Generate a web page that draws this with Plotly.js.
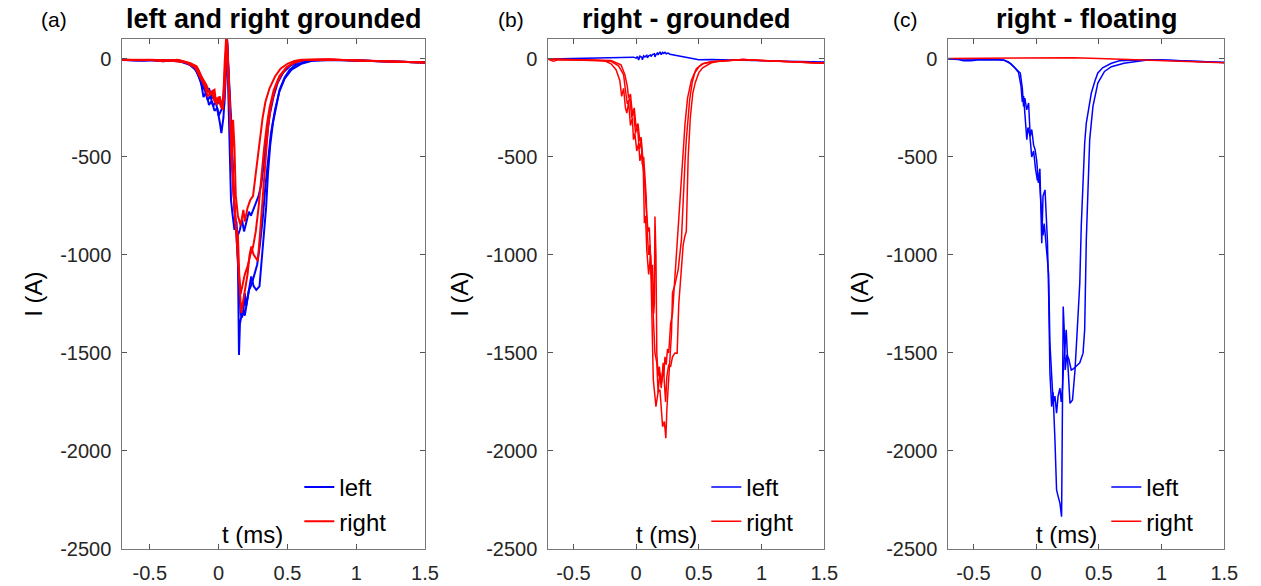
<!DOCTYPE html>
<html>
<head>
<meta charset="utf-8">
<script src="https://cdn.plot.ly/plotly-3.0.1.min.js"></script>
<style>html,body{margin:0;padding:0;background:#fff;}#chart{width:1261px;height:586px;}</style>
</head>
<body>
<div id="chart"></div>
<script>
// ---------- Panel (a): left and right grounded ----------
var a_left1_t = [-0.70,-0.60,-0.50,-0.40,-0.30,-0.22,-0.17,-0.13,-0.11,-0.09,-0.07,-0.05,-0.03,-0.01,0.01,0.02,0.035,0.05,0.06,0.075,0.09,0.10,0.115,0.13,0.14,0.148,0.155,0.165,0.18,0.19,0.20,0.215,0.237,0.255,0.274,0.297,0.31,0.322,0.345,0.359,0.375,0.395,0.42,0.443,0.48,0.517,0.56,0.61,0.66,0.75,0.90,1.20,1.50];
var a_left1_i = [-5,-8,-6,-12,-6,-22,-50,-110,-195,-170,-235,-215,-265,-250,-330,-378,-300,-120,120,-250,-720,-785,-872,-830,-1000,-1510,-1350,-1314,-1290,-1195,-1260,-1200,-1110,-1160,-1178,-1160,-1042,-957,-760,-581,-440,-326,-230,-157,-95,-55,-30,-18,-10,-5,-5,-12,-18];
var a_left2_t = [-0.70,-0.55,-0.45,-0.30,-0.21,-0.16,-0.12,-0.10,-0.08,-0.06,-0.04,-0.02,0.00,0.02,0.04,0.06,0.08,0.10,0.115,0.125,0.14,0.155,0.17,0.185,0.20,0.22,0.235,0.25,0.27,0.29,0.31,0.33,0.35,0.37,0.40,0.43,0.47,0.52,0.58,0.65,0.80,1.00,1.20,1.50];
var a_left2_i = [-4,-10,-6,-8,-30,-60,-140,-160,-210,-190,-240,-220,-290,-260,-240,120,-200,-550,-760,-850,-900,-870,-820,-880,-830,-780,-800,-770,-740,-700,-640,-520,-400,-290,-190,-120,-70,-35,-15,-6,-4,-8,-12,-18];
var a_left3_t = [-0.70,-0.50,-0.35,-0.25,-0.18,-0.14,-0.11,-0.09,-0.07,-0.05,-0.03,-0.01,0.01,0.03,0.06,0.09,0.11,0.13,0.15,0.16,0.17,0.18,0.19,0.205,0.22,0.24,0.26,0.28,0.30,0.32,0.34,0.36,0.38,0.41,0.44,0.48,0.53,0.60,0.68,0.85,1.00,1.20,1.50];
var a_left3_i = [-6,-5,-9,-15,-40,-90,-130,-170,-150,-200,-190,-230,-210,-250,115,-300,-700,-900,-1150,-1300,-1320,-1280,-1310,-1250,-1180,-1150,-1100,-1050,-950,-820,-650,-500,-380,-260,-170,-100,-55,-25,-10,-5,-8,-12,-18];
var a_right1_t = [-0.70,-0.60,-0.50,-0.41,-0.30,-0.21,-0.16,-0.126,-0.09,-0.066,-0.03,-0.017,0.007,0.031,0.044,0.056,0.07,0.085,0.095,0.105,0.115,0.125,0.14,0.16,0.18,0.19,0.21,0.23,0.25,0.26,0.28,0.30,0.32,0.34,0.37,0.41,0.45,0.50,0.55,0.60,0.80,1.00,1.20,1.50];
var a_right1_i = [-3,-7,-5,-12,-4,-21,-38,-89,-132,-174,-157,-234,-191,-259,-21,125,-100,-300,-550,-310,-450,-700,-800,-850,-770,-830,-760,-720,-700,-640,-520,-400,-300,-220,-150,-90,-50,-25,-10,-4,-3,-8,-12,-18];
var a_right2_t = [-0.70,-0.55,-0.40,-0.28,-0.20,-0.15,-0.12,-0.09,-0.06,-0.04,-0.02,0.00,0.02,0.04,0.06,0.08,0.10,0.12,0.14,0.155,0.165,0.175,0.19,0.21,0.225,0.238,0.255,0.27,0.285,0.30,0.315,0.33,0.345,0.36,0.38,0.41,0.45,0.50,0.56,0.62,0.80,1.00,1.20,1.50];
var a_right2_i = [-4,-6,-10,-8,-25,-50,-100,-150,-180,-160,-220,-200,-250,-210,120,-250,-550,-800,-1000,-1200,-1296,-1250,-1180,-1100,-1000,-957,-1000,-1016,-1030,-900,-760,-600,-450,-340,-240,-150,-85,-40,-15,-5,-3,-8,-12,-18];
var a_right3_t = [-0.70,-0.50,-0.35,-0.24,-0.17,-0.13,-0.10,-0.08,-0.05,-0.03,-0.01,0.02,0.04,0.06,0.085,0.105,0.125,0.14,0.15,0.16,0.175,0.19,0.21,0.23,0.25,0.27,0.29,0.31,0.33,0.35,0.37,0.40,0.44,0.49,0.55,0.62,0.80,1.00,1.20,1.50];
var a_right3_i = [-5,-4,-8,-18,-45,-95,-140,-190,-170,-215,-200,-240,-180,110,-300,-650,-850,-900,-1100,-1200,-1150,-1100,-1060,-1000,-960,-880,-760,-600,-460,-340,-250,-160,-90,-45,-18,-6,-3,-8,-12,-18];

// ---------- Panel (b): right - grounded ----------
var b_left_t = [-0.70,-0.50,-0.30,-0.10,-0.02,0.00,0.01,0.02,0.03,0.045,0.05,0.06,0.07,0.085,0.09,0.10,0.115,0.12,0.13,0.145,0.15,0.16,0.17,0.175,0.18,0.19,0.20,0.21,0.22,0.23,0.24,0.255,0.27,0.285,0.30,0.35,0.40,0.45,0.50,0.60,0.80,1.00,1.20,1.50];
var b_left_i = [0,2,4,7,9,4,12,-6,14,8,-4,16,10,18,6,16,20,12,22,26,10,24,30,20,28,36,22,33,28,34,26,30,24,22,20,14,8,2,-4,-3,-5,-8,-12,-16];
var b_right1_t = [-0.70,-0.66,-0.62,-0.50,-0.35,-0.25,-0.20,-0.16,-0.13,-0.115,-0.10,-0.085,-0.074,-0.06,-0.045,-0.03,-0.021,-0.01,0.005,0.02,0.03,0.045,0.058,0.066,0.075,0.085,0.10,0.115,0.124,0.137,0.158,0.175,0.19,0.20,0.211,0.225,0.237,0.245,0.255,0.269,0.282,0.29,0.31,0.335,0.361,0.375,0.39,0.40,0.427,0.447,0.467,0.50,0.532,0.60,0.66,0.75,0.85,1.00,1.20,1.50];
var b_right1_i = [-2,-12,-5,-6,-5,-10,-25,-55,-110,-191,-150,-250,-276,-220,-340,-300,-412,-380,-470,-430,-520,-480,-582,-838,-800,-974,-1100,-1000,-1212,-1637,-1774,-1700,-1688,-1780,-1876,-1850,-1935,-1790,-1700,-1535,-1398,-1194,-1150,-1076,-923,-700,-520,-412,-208,-120,-72,-40,-25,-15,-13,-8,-3,-8,-14,-22];
var b_right2_t = [-0.70,-0.40,-0.20,-0.14,-0.10,-0.085,-0.07,-0.05,-0.035,-0.02,-0.005,0.01,0.025,0.04,0.05,0.06,0.07,0.08,0.09,0.10,0.11,0.12,0.13,0.14,0.145,0.15,0.158,0.165,0.175,0.185,0.20,0.21,0.22,0.23,0.24,0.25,0.26,0.275,0.29,0.31,0.33,0.35,0.37,0.39,0.41,0.44,0.48,0.53,0.60,0.70,0.85,1.00,1.20,1.50];
var b_right2_i = [0,-5,-12,-35,-80,-160,-230,-200,-300,-260,-380,-340,-460,-420,-540,-500,-620,-700,-900,-1000,-950,-1100,-1050,-1300,-1250,-804,-1000,-1500,-1620,-1570,-1680,-1600,-1620,-1520,-1560,-1480,-1500,-1350,-1300,-1100,-900,-700,-500,-330,-200,-110,-50,-25,-15,-10,-3,-8,-14,-22];
var b_right3_t = [-0.70,-0.40,-0.20,-0.12,-0.09,-0.07,-0.06,-0.045,-0.03,-0.015,0.00,0.015,0.03,0.04,0.05,0.065,0.08,0.095,0.105,0.12,0.13,0.14,0.15,0.165,0.175,0.19,0.205,0.215,0.225,0.235,0.245,0.26,0.275,0.29,0.31,0.327,0.34,0.36,0.375,0.388,0.40,0.415,0.432,0.452,0.472,0.50,0.53,0.60,0.65,0.75,0.85,1.00,1.20,1.50];
var b_right3_i = [0,-5,-8,-30,-80,-140,-200,-180,-280,-250,-350,-330,-420,-400,-470,-600,-760,-880,-860,-1050,-1200,-1350,-1500,-1550,-1700,-1600,-1650,-1550,-1680,-1750,-1620,-1560,-1570,-1520,-1500,-1501,-1250,-1100,-950,-906,-880,-500,-300,-174,-120,-70,-45,-20,-13,-8,-3,-8,-14,-22];

// ---------- Panel (c): right - floating ----------
var c_left1_t = [-0.70,-0.62,-0.58,-0.52,-0.45,-0.30,-0.26,-0.22,-0.18,-0.15,-0.126,-0.11,-0.10,-0.09,-0.075,-0.06,-0.047,-0.035,-0.02,-0.008,0.005,0.018,0.03,0.045,0.055,0.071,0.08,0.09,0.10,0.11,0.124,0.135,0.15,0.163,0.175,0.19,0.203,0.216,0.225,0.232,0.245,0.26,0.28,0.30,0.315,0.33,0.348,0.374,0.387,0.40,0.427,0.453,0.492,0.545,0.60,0.70,0.80,0.90,1.00,1.20,1.50];
var c_left1_i = [0,-3,-9,-9,-4,-3,-5,-15,-38,-55,-72,-150,-242,-200,-260,-225,-395,-360,-440,-463,-520,-633,-560,-940,-700,-668,-800,-925,-1200,-1603,-1774,-1700,-1944,-2199,-2230,-2267,-2335,-1263,-1400,-1587,-1510,-1530,-1587,-1580,-1570,-1560,-1550,-1501,-1382,-923,-412,-242,-123,-64,-40,-22,-12,-4,-6,-12,-18];
var c_left2_t = [-0.70,-0.30,-0.25,-0.20,-0.17,-0.14,-0.12,-0.11,-0.10,-0.085,-0.074,-0.065,-0.05,-0.035,-0.02,-0.005,0.01,0.025,0.04,0.055,0.065,0.08,0.09,0.10,0.11,0.124,0.136,0.15,0.163,0.175,0.19,0.20,0.21,0.22,0.24,0.25,0.27,0.29,0.31,0.325,0.348,0.36,0.374,0.387,0.40,0.42,0.44,0.47,0.492,0.53,0.60,0.664,0.80,0.90,1.00,1.20,1.50];
var c_left2_i = [0,-2,-8,-25,-45,-70,-140,-220,-190,-300,-412,-350,-390,-500,-470,-560,-620,-600,-750,-900,-840,-950,-1000,-1100,-1450,-1637,-1757,-1720,-1807,-1720,-1680,-1750,-1680,-1550,-1382,-1520,-1757,-1740,-1587,-1416,-1144,-850,-582,-430,-327,-240,-174,-110,-72,-45,-22,-10,-5,-4,-6,-12,-18];
var c_right_t = [-0.70,-0.40,-0.10,0.10,0.20,0.30,0.50,0.70,0.90,1.20,1.50];
var c_right_i = [2,3,5,6,8,6,2,-2,-5,-12,-20];

// ---------- Axis ticks / labels ----------
var xTickVals = [-0.5, 0, 0.5, 1, 1.5];
var xTickText = ['-0.5', '0', '0.5', '1', '1.5'];
var yTickVals = [-2500, -2000, -1500, -1000, -500, 0];
var yTickText = ['-2500', '-2000', '-1500', '-1000', '-500', '0'];
var panelTitles = ['left and right grounded', 'right - grounded', 'right - floating'];
var panelLetters = ['(a)', '(b)', '(c)'];
var seriesNames = ['left', 'right'];

var BLUE = '#0000ff', RED = '#ff0000';
var FONT = 'Liberation Sans, Arial, sans-serif';

function tr(t, i, color, k, width, name, show) {
  var s = k === 1 ? '' : String(k);
  return {
    x: t, y: i, type: 'scatter', mode: 'lines',
    xaxis: 'x' + s, yaxis: 'y' + s,
    line: {color: color, width: width},
    name: name, showlegend: !!show, legend: 'legend' + s,
    hoverinfo: 'skip'
  };
}

var data = [
  tr(a_left1_t, a_left1_i, BLUE, 1, 2, seriesNames[0], true),
  tr(a_left2_t, a_left2_i, BLUE, 1, 2, seriesNames[0], false),
  tr(a_left3_t, a_left3_i, BLUE, 1, 2, seriesNames[0], false),
  tr(a_right1_t, a_right1_i, RED, 1, 2, seriesNames[1], true),
  tr(a_right2_t, a_right2_i, RED, 1, 2, seriesNames[1], false),
  tr(a_right3_t, a_right3_i, RED, 1, 2, seriesNames[1], false),
  tr(b_left_t, b_left_i, BLUE, 2, 1.5, seriesNames[0], true),
  tr(b_right1_t, b_right1_i, RED, 2, 1.5, seriesNames[1], true),
  tr(b_right2_t, b_right2_i, RED, 2, 1.5, seriesNames[1], false),
  tr(b_right3_t, b_right3_i, RED, 2, 1.5, seriesNames[1], false),
  tr(c_left1_t, c_left1_i, BLUE, 3, 1.5, seriesNames[0], true),
  tr(c_left2_t, c_left2_i, BLUE, 3, 1.5, seriesNames[0], false),
  tr(c_right_t, c_right_i, RED, 3, 1.5, seriesNames[1], true)
];

var W = 1261, H = 586;
var xDomains = [[122.3 / W, 425 / W], [548.3 / W, 824.3 / W], [948.3 / W, 1224.3 / W]];
var yDomain = [(H - 549) / H, (H - 39.3) / H];

function xax(k) {
  return {
    domain: xDomains[k], anchor: k === 0 ? 'y' : 'y' + (k + 1),
    range: [-0.7, 1.5], tickvals: xTickVals, ticktext: xTickText,
    ticks: 'inside', ticklen: 5, tickcolor: '#555', showline: true, mirror: 'ticks',
    linecolor: '#777', linewidth: 1, showgrid: false, zeroline: false,
    tickfont: {family: FONT, size: 20, color: '#262626'}, ticklabelstandoff: 6
  };
}
function yax(k) {
  return {
    domain: yDomain, anchor: k === 0 ? 'x' : 'x' + (k + 1),
    range: [-2500, 100], tickvals: yTickVals, ticktext: yTickText,
    ticks: 'inside', ticklen: 5, tickcolor: '#555', showline: true, mirror: 'ticks',
    linecolor: '#777', linewidth: 1, showgrid: false, zeroline: false,
    tickfont: {family: FONT, size: 20, color: '#262626'}, ticklabelstandoff: 6,
    title: {text: 'I (A)', font: {family: FONT, size: 24, color: '#000'}, standoff: 10}
  };
}

var annotations = [];
var legends = {};
var letterX = [54, 511, 905];
for (var k = 0; k < 3; k++) {
  var s = k === 0 ? '' : String(k + 1);
  annotations.push({
    xref: 'x' + s + ' domain', yref: 'paper', x: 0.5, y: (H - 19) / H,
    xanchor: 'center', yanchor: 'middle', showarrow: false,
    text: panelTitles[k], font: {family: FONT, size: 27, color: '#000', weight: 'bold'}
  });
  annotations.push({
    xref: 'paper', yref: 'paper', x: letterX[k] / W, y: (H - 19) / H,
    xanchor: 'center', yanchor: 'middle', showarrow: false,
    text: panelLetters[k], font: {family: FONT, size: 21, color: '#000'}
  });
  annotations.push({
    xref: 'x' + s + ' domain', yref: 'y' + s + ' domain', x: 0.43, y: 0.028,
    xanchor: 'center', yanchor: 'middle', showarrow: false,
    text: 't (ms)', font: {family: FONT, size: 24, color: '#000'}
  });
  legends['legend' + s] = {
    x: (xDomains[k][0] * W + (k === 0 ? 177 : 158)) / W, y: (H - 465) / H,
    xanchor: 'left', yanchor: 'top', bgcolor: 'rgba(0,0,0,0)', borderwidth: 0,
    font: {family: FONT, size: 24, color: '#000'}
  };
}

var layout = {
  width: W, height: H, margin: {l: 0, r: 0, t: 0, b: 0},
  paper_bgcolor: '#fff', plot_bgcolor: '#fff',
  xaxis: xax(0), xaxis2: xax(1), xaxis3: xax(2),
  yaxis: yax(0), yaxis2: yax(1), yaxis3: yax(2),
  annotations: annotations, showlegend: true
};
for (var key in legends) layout[key] = legends[key];

Plotly.newPlot('chart', data, layout, {staticPlot: true, displayModeBar: false});
</script>
</body>
</html>
